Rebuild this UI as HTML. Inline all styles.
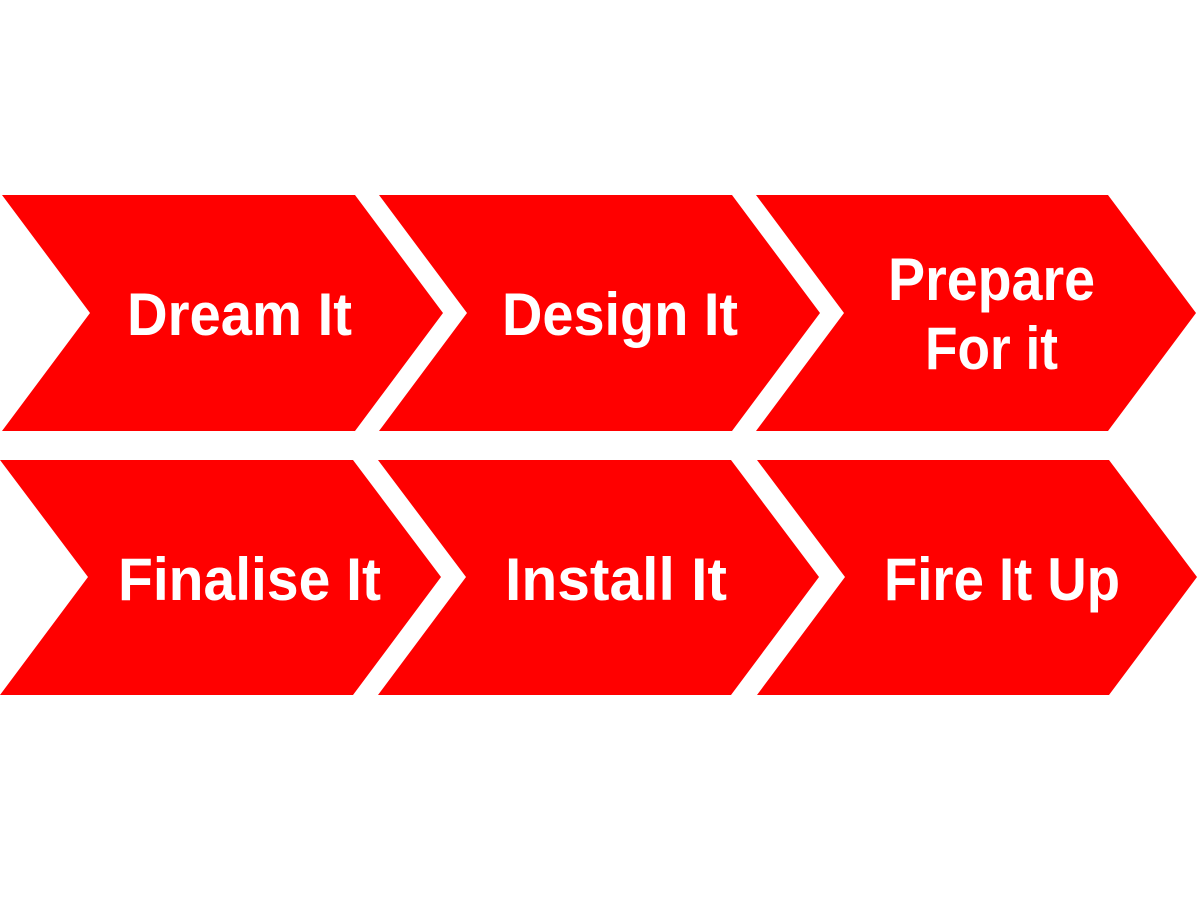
<!DOCTYPE html>
<html><head><meta charset="utf-8"><style>html,body{margin:0;padding:0;background:#fff}svg{display:block}</style></head>
<body>
<svg width="1200" height="900" viewBox="0 0 1200 900" xmlns="http://www.w3.org/2000/svg">
<g fill="#ff0000">
<polygon points="2,195 355,195 443,313 355,431 2,431 90,313"/>
<polygon points="379,195 732,195 820,313 732,431 379,431 467,313"/>
<polygon points="756,195 1108,195 1196,313 1108,431 756,431 844,313"/>
<polygon points="0,460 353,460 441,577 353,695 0,695 88,577"/>
<polygon points="378,460 731,460 819,577 731,695 378,695 466,577"/>
<polygon points="757,460 1109,460 1197,577 1109,695 757,695 845,577"/>
</g>
<g fill="#fff" font-family="Liberation Sans, sans-serif" font-weight="bold" font-size="60">
<text x="127" y="335" textLength="225" lengthAdjust="spacingAndGlyphs">Dream It</text>
<text x="502" y="335" textLength="236" lengthAdjust="spacingAndGlyphs">Design It</text>
<text x="888" y="300" textLength="207" lengthAdjust="spacingAndGlyphs">Prepare</text>
<text x="925" y="369" textLength="133" lengthAdjust="spacingAndGlyphs">For it</text>
<text x="118" y="600" textLength="263" lengthAdjust="spacingAndGlyphs">Finalise It</text>
<text x="505" y="600" textLength="222" lengthAdjust="spacingAndGlyphs">Install It</text>
<text x="884" y="600" textLength="236" lengthAdjust="spacingAndGlyphs">Fire It Up</text>
</g>
</svg>
</body></html>
